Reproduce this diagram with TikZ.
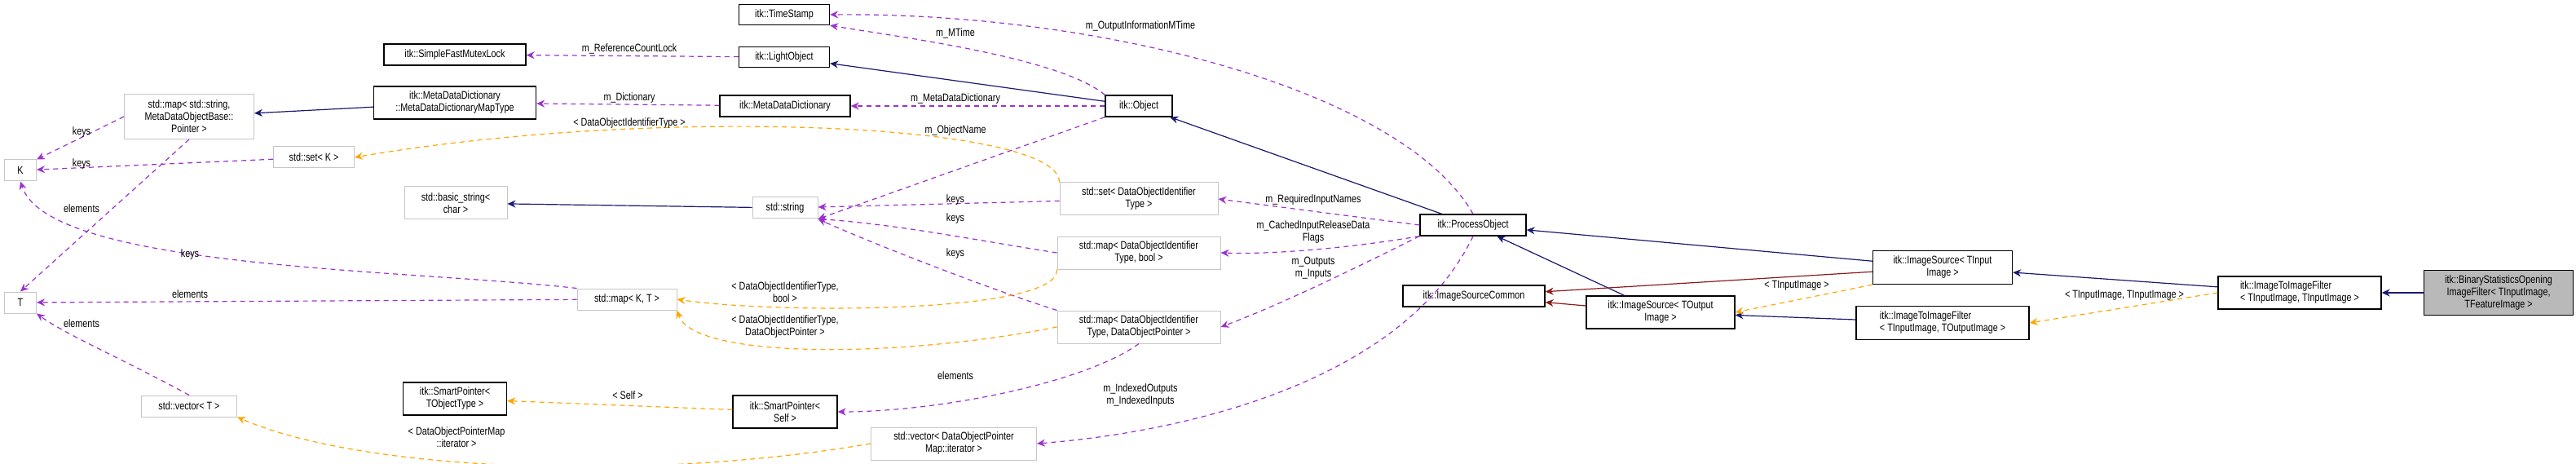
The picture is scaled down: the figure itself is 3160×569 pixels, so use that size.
\documentclass[tikz,border=0pt]{standalone}
\usepackage{fontspec}
\setmainfont{Liberation Sans}[FakeStretch=0.8]
\usetikzlibrary{arrows.meta}
\definecolor{inhblue}{HTML}{191970}
\definecolor{usepurple}{HTML}{9A32CD}
\definecolor{tmplorange}{HTML}{FFA500}
\definecolor{commonred}{HTML}{8B1A1A}
\tikzset{
  cls/.style={draw=black, line width=1.3pt, fill=white, align=center, inner sep=1pt,
              font=\fontsize{13.5}{15}\selectfont},
  ext/.style={cls, draw=gray!45, line width=1pt},
  lbl/.style={align=center, inner sep=0pt, font=\fontsize{13.5}{15}\selectfont},
  box/.style n args={2}{minimum width=#1, minimum height=#2},
  inh/.style={draw=inhblue, line width=1.2pt, -{Stealth[length=10pt,width=9pt]}},
  com/.style={draw=commonred, line width=1.2pt, -{Stealth[length=10pt,width=9pt]}},
  use/.style={draw=usepurple, line width=1.2pt, dash pattern=on 6pt off 5pt, -{Stealth[length=10pt,width=9pt]}},
  tpl/.style={draw=tmplorange, line width=1.2pt, dash pattern=on 6pt off 5pt, -{Stealth[length=10pt,width=9pt]}},
}
\begin{document}
\begin{tikzpicture}[x=1pt, y=-1pt]
    \useasboundingbox (0,0) rectangle (3160,569);

    % Classes
    \node[cls, box={111}{25}] (TS)      at (962,18)  {itk::TimeStamp};
    \node[cls, box={174}{26}] (Lock)    at (558,67)  {itk::SimpleFastMutexLock};
    \node[cls, box={111}{25}] (LObj)    at (962,70)  {itk::LightObject};
    \node[cls, box={199}{40}] (MapType) at (558,126) {itk::MetaDataDictionary\\::MetaDataDictionaryMapType};
    \node[cls, box={160}{26}] (MDD)     at (963,130) {itk::MetaDataDictionary};
    \node[cls, box={82}{26}]  (Obj)     at (1397,130) {itk::Object};
    \node[cls, box={127}{40}] (SPT)     at (558,489) {itk::SmartPointer<\\ TObjectType >};
    \node[cls, box={128}{40}] (SPS)     at (963,505) {itk::SmartPointer<\\ Self >};
    \node[cls, box={130}{26}] (PO)      at (1807,276) {itk::ProcessObject};
    \node[cls, box={174}{26}] (ISC)     at (1808,363) {itk::ImageSourceCommon};
    \node[cls, box={182}{40}] (ISO)     at (2037,383) {itk::ImageSource< TOutput\\ Image >};
    \node[cls, box={171}{41}] (ISI)     at (2383,328) {itk::ImageSource< TInput\\ Image >};
    \node[cls, box={212}{41}, align=left] (IIO) at (2383,396) {itk::ImageToImageFilter\\< TInputImage, TOutputImage >};
    \node[cls, box={200}{40}, align=left] (III) at (2821,359) {itk::ImageToImageFilter\\< TInputImage, TInputImage >};
    \node[cls, box={183}{55}, fill=gray!55] (Bin) at (3065,359) {itk::BinaryStatisticsOpening\\ImageFilter< TInputImage,\\ TFeatureImage >};

    % Standard library and template parameters
    \node[ext, box={159}{55}] (StrMap) at (232,143) {std::map< std::string,\\ MetaDataObjectBase::\\Pointer >};
    \node[ext, box={39}{26}]  (K)      at (25,209)  {K};
    \node[ext, box={39}{26}]  (T)      at (25,371)  {T};
    \node[ext, box={99}{26}]  (SetK)   at (385,193) {std::set< K >};
    \node[ext, box={126}{40}] (BStr)   at (559,249) {std::basic\_string<\\ char >};
    \node[ext, box={80}{26}]  (Str)    at (963,255) {std::string};
    \node[ext, box={122}{26}] (MapKT)  at (769,367) {std::map< K, T >};
    \node[ext, box={117}{26}] (VecT)   at (232,498) {std::vector< T >};
    \node[ext, box={194}{40}] (SetD)   at (1397,244) {std::set< DataObjectIdentifier\\Type >};
    \node[ext, box={200}{40}] (MapB)   at (1397,310) {std::map< DataObjectIdentifier\\Type, bool >};
    \node[ext, box={200}{40}] (MapP)   at (1397,401) {std::map< DataObjectIdentifier\\Type, DataObjectPointer >};
    \node[ext, box={203}{40}] (VecP)   at (1170,544) {std::vector< DataObjectPointer\\Map::iterator >};

    % Inheritance
    \draw[inh] (Obj) -- (LObj);
    \draw[inh] (PO) -- (Obj);
    \draw[inh] (Str) -- (BStr);
    \draw[inh] (MapType) -- (StrMap);
    \draw[inh] (ISI) -- (PO);
    \draw[inh] (ISO) -- (PO);
    \draw[inh] (IIO) -- (ISO);
    \draw[inh] (III) -- (ISI);
    \draw[inh] (Bin) -- (III);
    \draw[com] (ISI) -- (ISC);
    \draw[com] (ISO) -- (ISC);

    % Members
    \draw[use] (LObj) -- (Lock);
    \draw[use] (Obj.north west) .. controls (1300,70) and (1100,45) .. (TS.south east);
    \draw[use] (PO.north) .. controls (1720,110) and (1350,15) .. (TS.east);
    \draw[use] (Obj) -- (MDD);
    \draw[use] (MDD) -- (MapType);
    \draw[use] (Obj.south west) -- (Str.south east);
    \draw[use] (PO.west) -- (SetD.east);
    \draw[use] (PO.south west) .. controls (1650,305) and (1560,312) .. (MapB.east);
    \draw[use] (PO.south west) .. controls (1680,320) and (1580,370) .. (MapP.east);
    \draw[use] (PO.south) .. controls (1720,470) and (1450,530) .. (VecP.east);
    \draw[use] (SetD) -- (Str);
    \draw[use] (MapB.west) .. controls (1200,295) and (1100,275) .. (Str.south east);
    \draw[use] (MapP.north west) .. controls (1200,350) and (1050,290) .. (Str.south east);
    \draw[use] (MapP.south) .. controls (1330,470) and (1150,505) .. (SPS.east);
    \draw[use] (StrMap.west) -- (K.north east);
    \draw[use] (StrMap.south) -- (T.north);
    \draw[use] (SetK) -- (K);
    \draw[use] (MapKT.north west) .. controls (500,330) and (60,330) .. (K.south);
    \draw[use] (MapKT) -- (T);
    \draw[use] (VecT.north) .. controls (150,440) and (80,410) .. (T.south east);

    % Template instances
    \draw[tpl] (SetD.north west) .. controls (1300,150) and (800,130) .. (SetK.east);
    \draw[tpl] (MapB.south west) .. controls (1300,385) and (950,385) .. (MapKT.east);
    \draw[tpl] (MapP.west) .. controls (1100,440) and (850,440) .. (MapKT.south east);
    \draw[tpl] (SPS) -- (SPT);
    \draw[tpl] (VecP.west) .. controls (800,590) and (450,580) .. (VecT.south east);
    \draw[tpl] (ISI.south west) -- (ISO.east);
    \draw[tpl] (III.west) -- (IIO.east);

    % Labels
    \node[lbl] (l1)  at (772,60)   {m\_ReferenceCountLock};
    \node[lbl] (l2)  at (1172,41)  {m\_MTime};
    \node[lbl] (l3)  at (1399,32)  {m\_OutputInformationMTime};
    \node[lbl] (l4)  at (1172,121) {m\_MetaDataDictionary};
    \node[lbl] (l5)  at (772,120)  {m\_Dictionary};
    \node[lbl] (l6)  at (1172,160) {m\_ObjectName};
    \node[lbl] (l7)  at (772,151)  {< DataObjectIdentifierType >};
    \node[lbl] (l8)  at (100,162)  {keys};
    \node[lbl] (l9)  at (100,201)  {keys};
    \node[lbl] (l10) at (100,256)  {elements};
    \node[lbl] (l11) at (233,312)  {keys};
    \node[lbl] (l12) at (233,361)  {elements};
    \node[lbl] (l13) at (100,397)  {elements};
    \node[lbl] (l14) at (963,358)  {< DataObjectIdentifierType,\\ bool >};
    \node[lbl] (l15) at (963,401)  {< DataObjectIdentifierType,\\ DataObjectPointer >};
    \node[lbl] (l16) at (770,485)  {< Self >};
    \node[lbl] (l17) at (560,536)  {< DataObjectPointerMap\\ ::iterator >};
    \node[lbl] (l18) at (1172,245) {keys};
    \node[lbl] (l19) at (1172,268) {keys};
    \node[lbl] (l20) at (1172,311) {keys};
    \node[lbl] (l21) at (1172,461) {elements};
    \node[lbl] (l22) at (1611,245) {m\_RequiredInputNames};
    \node[lbl] (l23) at (1611,285) {m\_CachedInputReleaseData\\Flags};
    \node[lbl] (l24) at (1611,329) {m\_Outputs\\m\_Inputs};
    \node[lbl] (l25) at (1399,485) {m\_IndexedOutputs\\m\_IndexedInputs};
    \node[lbl] (l26) at (2204,350) {< TInputImage >};
    \node[lbl] (l27) at (2606,362) {< TInputImage, TInputImage >};
\end{tikzpicture}
\end{document}
